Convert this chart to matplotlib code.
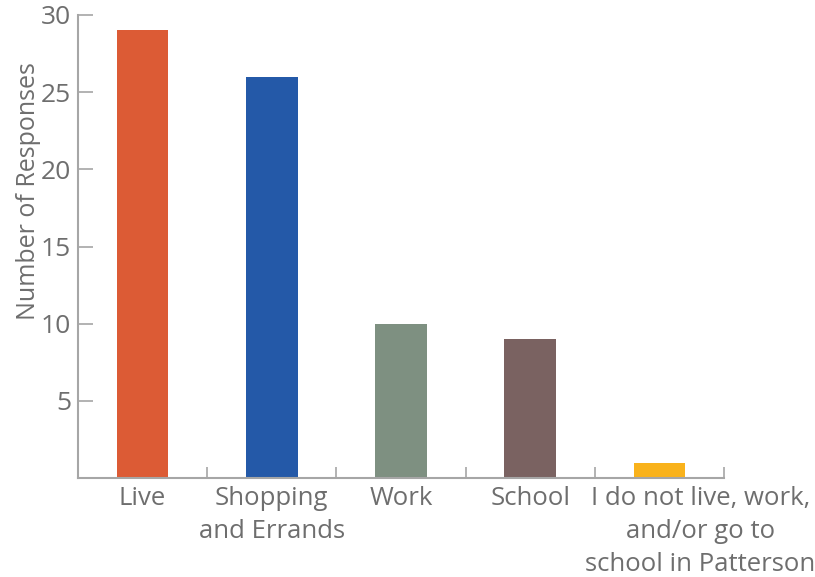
import numpy as np
import matplotlib.pyplot as plt
from matplotlib.transforms import ScaledTranslation

categories = ['Live', 'Shopping\nand Errands', 'Work', 'School',
              'I do not live, work,\nand/or go to\nschool in Patterson']
responses = [29, 26, 10, 9, 1]
colors = ['#DC5B35', '#2459A8', '#7E9081', '#7A6261', '#F9B21B']
yticks = [5, 10, 15, 20, 25, 30]

text_color = '#6E6E6E'
axis_color = '#A6A6A6'
plt.rcParams['font.family'] = ['Open Sans', 'DejaVu Sans']

fig = plt.figure(figsize=(8.15, 5.77), dpi=100)
ax = fig.add_axes([78 / 815, 99 / 577, 646 / 815, 463 / 577])

x = np.arange(len(categories))
ax.bar(x, responses, width=0.4, color=colors)

ax.set_xlim(-0.5, len(categories) - 0.5)
ax.set_ylim(0, 30)

for side in ['top', 'right']:
    ax.spines[side].set_visible(False)
for side in ['left', 'bottom']:
    ax.spines[side].set_color(axis_color)
    ax.spines[side].set_linewidth(1.5)

# y axis: inward ticks, no label at zero
ax.set_yticks(yticks)
ax.tick_params(axis='y', direction='in', length=11, width=1.2, color=axis_color,
               labelsize=19, labelcolor=text_color, pad=5)

# x axis: ticks at category boundaries, labels at centres
ax.set_xticks(np.arange(len(categories) + 1) - 0.5)
ax.set_xticklabels([])
ax.set_xticks(x, minor=True)
ax.set_xticklabels(categories, minor=True, linespacing=1.4)
ax.tick_params(axis='x', which='major', direction='in', length=8, width=1.2,
               color=axis_color)
ax.tick_params(axis='x', which='minor', length=0, labelsize=18.5,
               labelcolor=text_color, pad=6)

# long last label sits a little to the right
last = ax.get_xticklabels(minor=True)[-1]
last.set_transform(last.get_transform() + ScaledTranslation(0.41, 0, fig.dpi_scale_trans))

ax.set_ylabel('Number of Responses', fontsize=18, color=text_color)
ax.yaxis.set_label_coords(-0.058, 0.62)

fig.savefig('out.png', dpi=100)
